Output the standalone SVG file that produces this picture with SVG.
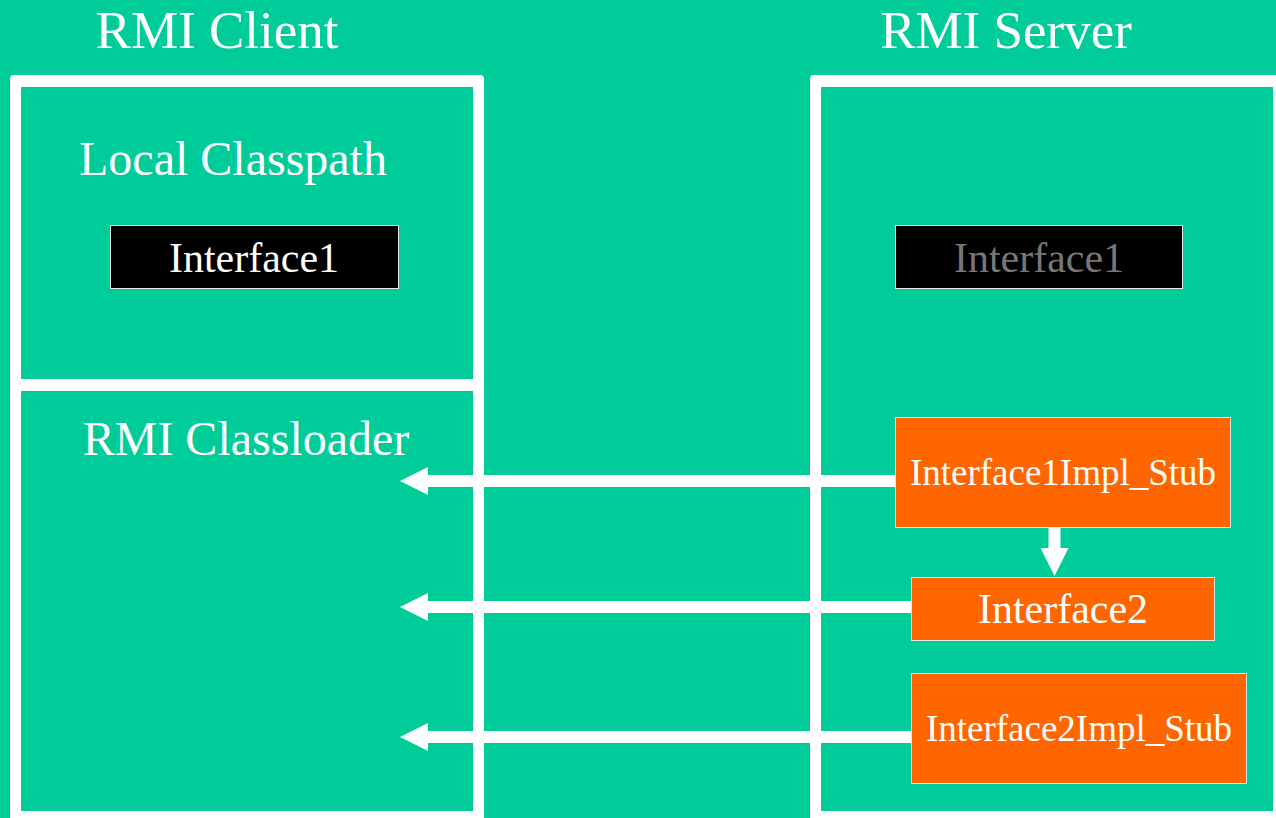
<svg xmlns="http://www.w3.org/2000/svg" width="1276" height="818" viewBox="0 0 1276 818">
  <style>
    text { font-family: "Liberation Serif", "Times New Roman", Times, serif; fill: #ffffff; text-anchor: middle; }
    .frame { fill: #ffffff; }
    .pane { fill: #00cc99; }
    .cls { fill: #000000; stroke: #e8e8e8; stroke-width: 1; }
    .stub { fill: #ff6600; stroke: #e8e8e8; stroke-width: 1; }
    .link { stroke: #ffffff; stroke-width: 12; fill: none; }
  </style>
  <defs>
    <!-- arrowhead sits past the end of the shaft: base at the end point, tip 28px further -->
    <marker id="head" markerUnits="userSpaceOnUse" markerWidth="28" markerHeight="28" refX="0" refY="14" orient="auto">
      <path d="M0,0 L28,14 L0,28 Z" fill="#ffffff"/>
    </marker>
  </defs>

  <rect x="0" y="0" width="1276" height="818" fill="#00cc99"/>

  <!-- client side -->
  <g id="rmi-client">
    <text x="217" y="48" font-size="53" font-family="Liberation Serif, serif">RMI Client</text>
    <rect class="frame" x="10" y="75" width="474" height="760" rx="4"/>
    <rect class="pane" x="21" y="87" width="452" height="292"/>
    <rect class="pane" x="21" y="391" width="452" height="420"/>
  </g>
  <g id="local-classpath">
    <text x="233" y="175" font-size="48" font-family="Liberation Serif, serif">Local Classpath</text>
  </g>
  <g id="rmi-classloader">
    <text x="246" y="455" font-size="48" font-family="Liberation Serif, serif">RMI Classloader</text>
  </g>
  <g id="client-interface1">
    <rect class="cls" x="110.5" y="225.5" width="288" height="63"/>
    <text x="254" y="272" font-size="42" font-family="Liberation Serif, serif">Interface1</text>
  </g>

  <!-- server side -->
  <g id="rmi-server">
    <text x="1006" y="48" font-size="53" font-family="Liberation Serif, serif">RMI Server</text>
    <rect class="frame" x="810" y="75" width="480" height="760" rx="4"/>
    <rect class="pane" x="821" y="87" width="452" height="724"/>
  </g>
  <g id="server-interface1">
    <rect class="cls" x="895.5" y="225.5" width="287" height="63"/>
    <text x="1039" y="272" font-size="42" font-family="Liberation Serif, serif" style="fill:#777777">Interface1</text>
  </g>

  <!-- connectors -->
  <g id="connectors">
    <line class="link" x1="895" y1="481" x2="428" y2="481" marker-end="url(#head)"/>
    <line class="link" x1="911" y1="607" x2="428" y2="607" marker-end="url(#head)"/>
    <line class="link" x1="911" y1="737" x2="428" y2="737" marker-end="url(#head)"/>
    <line class="link" x1="1054.5" y1="528" x2="1054.5" y2="548" marker-end="url(#head)"/>
  </g>

  <g id="interface1impl-stub">
    <rect class="stub" x="895.5" y="417.5" width="335" height="110"/>
    <text x="1063" y="485" font-size="37" font-family="Liberation Serif, serif">Interface1Impl_Stub</text>
  </g>
  <g id="interface2">
    <rect class="stub" x="911.5" y="577.5" width="303" height="63"/>
    <text x="1063" y="623" font-size="42" font-family="Liberation Serif, serif">Interface2</text>
  </g>
  <g id="interface2impl-stub">
    <rect class="stub" x="911.5" y="673.5" width="335" height="110"/>
    <text x="1079" y="741" font-size="37" font-family="Liberation Serif, serif">Interface2Impl_Stub</text>
  </g>
</svg>
